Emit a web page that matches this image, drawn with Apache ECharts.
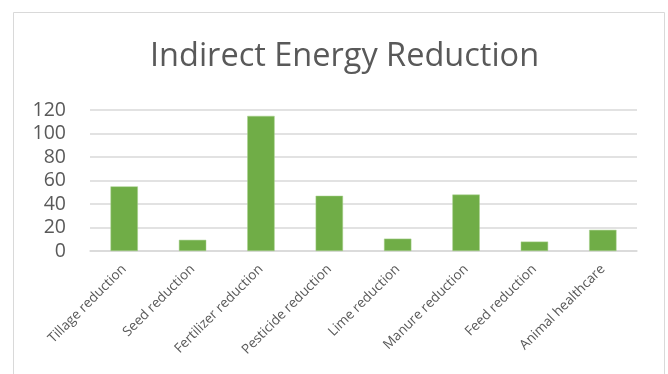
<!DOCTYPE html>
<html>
<head>
<meta charset="utf-8">
<script src="https://cdn.jsdelivr.net/npm/echarts@6/dist/echarts.min.js"></script>
<style>
html,body{margin:0;padding:0;background:#fff;}
#chart{width:668px;height:374px;}
</style>
</head>
<body>
<div id="chart"></div>
<script>
const titleText = 'Indirect Energy Reduction';
const categories = ['Tillage reduction','Seed reduction','Fertilizer reduction','Pesticide reduction','Lime reduction','Manure reduction','Feed reduction','Animal healthcare'];
const values = [55, 9.5, 115, 47, 10.5, 48, 8, 18];
const yTicks = [0, 20, 40, 60, 80, 100, 120];

const chart = echarts.init(document.getElementById('chart'));
chart.setOption({
  animation: false,
  backgroundColor: '#ffffff',
  graphic: [{
    type: 'rect',
    shape: {x: 13.5, y: 12.5, width: 651, height: 380},
    style: {fill: 'none', stroke: '#d9d9d9', lineWidth: 1}
  }],
  title: {
    text: titleText,
    left: 145,
    top: 35,
    textStyle: {fontFamily: 'Open Sans', fontWeight: 'normal', fontSize: 32.5, color: '#595959'}
  },
  grid: {left: 90, right: 31, top: 110, bottom: 123, containLabel: false},
  xAxis: {
    type: 'category',
    data: categories,
    axisLine: {show: true, lineStyle: {color: '#d9d9d9', width: 1.5}},
    axisTick: {show: false},
    axisLabel: {rotate: 45, margin: 16, interval: 0, fontFamily: 'Open Sans', fontSize: 13.5, color: '#595959'}
  },
  yAxis: {
    type: 'value',
    min: yTicks[0],
    max: yTicks[yTicks.length - 1],
    interval: yTicks[1] - yTicks[0],
    axisLine: {show: false},
    axisTick: {show: false},
    splitLine: {lineStyle: {color: '#d9d9d9', width: 1.5}},
    axisLabel: {margin: 24, fontFamily: 'Open Sans', fontSize: 19.5, color: '#595959'}
  },
  series: [{
    type: 'bar',
    data: values,
    barWidth: '40%',
    itemStyle: {color: '#70ad47', borderColor: '#a9d18e', borderWidth: 0.5}
  }]
});
</script>
</body>
</html>
